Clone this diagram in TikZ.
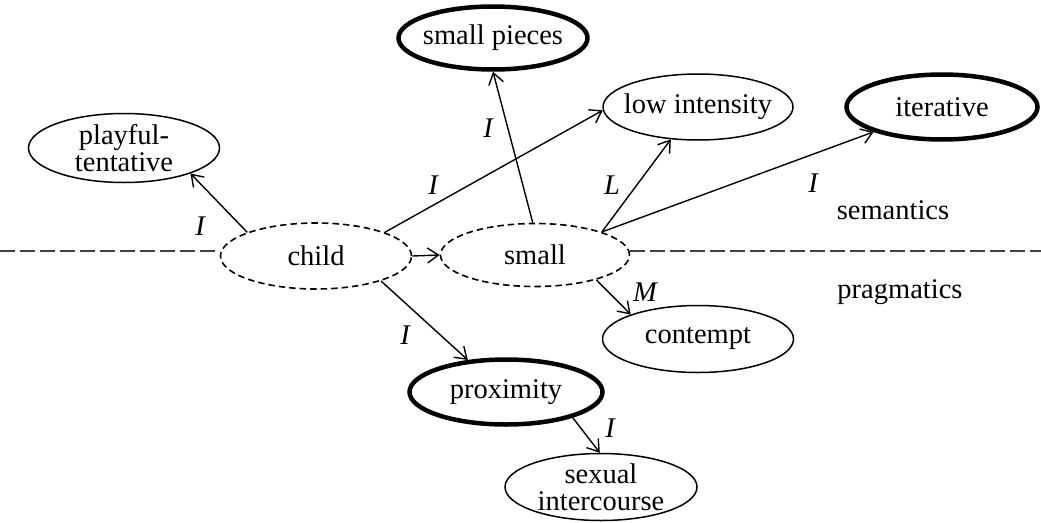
\documentclass[tikz,border=0pt]{standalone}
\usepackage{fontspec}
\setmainfont{Liberation Serif}
\usetikzlibrary{shapes.geometric,arrows.meta}
\begin{document}
\begin{tikzpicture}[x=1pt,y=-1pt,
  el/.style={ellipse, draw, line width=1.5pt, inner sep=0pt},
  thickel/.style={el, line width=4.5pt},
  dashel/.style={el, line width=1.6pt, dash pattern=on 6.5pt off 4pt},
  txt/.style={font=\fontsize{28.5}{27}\selectfont, align=center, inner sep=0pt},
  lab/.style={font=\fontsize{28.5}{27}\selectfont\itshape, inner sep=0pt},
  arr/.style={-{Straight Barb[length=11pt,width=15pt,line width=1.4pt]}, line width=1.4pt},
  hline/.style={line width=2pt, draw=black!75, dash pattern=on 14.7pt off 5.3pt}
]
\useasboundingbox (0,0) rectangle (1041,522);

% ellipses
\node[thickel, minimum width=189pt, minimum height=63pt] (smallpieces) at (493,38) {};
\node[el, minimum width=191pt, minimum height=69pt] (playful) at (124,148) {};
\node[el, minimum width=190pt, minimum height=66pt] (lowint) at (698,107) {};
\node[thickel, minimum width=191pt, minimum height=65pt] (iterative) at (942,107) {};
\node[dashel, minimum width=191pt, minimum height=66pt] (child) at (316,256) {};
\node[dashel, minimum width=189pt, minimum height=63pt] (small) at (535,255) {};
\node[el, minimum width=191pt, minimum height=67pt] (contempt) at (698,339) {};
\node[thickel, minimum width=193pt, minimum height=65pt] (proximity) at (506,392) {};
\node[el, minimum width=192pt, minimum height=67pt] (sexual) at (601,487) {};

% texts
\node[txt] (smallpieces-t) at (smallpieces) {small pieces};
\node[txt] (playful-t) at (playful) {playful-\\tentative};
\node[txt] (lowint-t) at (lowint) {low intensity};
\node[txt] (iterative-t) at (iterative) {iterative};
\node[txt] (child-t) at (child) {child};
\node[txt] (small-t) at (small) {small};
\node[txt] (contempt-t) at (contempt) {contempt};
\node[txt] (proximity-t) at (proximity) {proximity};
\node[txt] (sexual-t) at (sexual) {sexual\\intercourse};

\node[txt] (sem) at (893,210) {semantics};
\node[txt] (prag) at (900,292) {pragmatics};

% dividing line
\coordinate (L0) at (0,251);
\coordinate (R0) at (1041,251);
\draw[hline] (L0) -- (child.west |- L0);
\draw[hline] (small.east |- L0) -- (R0);

% connectors
\draw[arr] (child.161) -- (playful.-21);
\draw[arr] (child.19) -- (lowint.182);
\draw[arr] (child.east) -- (small.west);
\draw[arr] (child.-21) -- (proximity.140);
\draw[arr] (small.94) -- (smallpieces.south);
\draw[arr] (small.19) -- (lowint.230);
\draw[arr] (small.19) -- (iterative.200);
\draw[arr] (small.-22) -- (contempt.160);
\draw[arr] (proximity.-21) -- (sexual.92);

% labels
\node[lab] (l1) at (200,226) {I};
\node[lab] (l2) at (433,185) {I};
\node[lab] (l3) at (488,128) {I};
\node[lab] (l4) at (612,185) {L};
\node[lab] (l5) at (813,183) {I};
\node[lab] (l6) at (645,292) {M};
\node[lab] (l7) at (405,335) {I};
\node[lab] (l8) at (610,428) {I};
\end{tikzpicture}
\end{document}
